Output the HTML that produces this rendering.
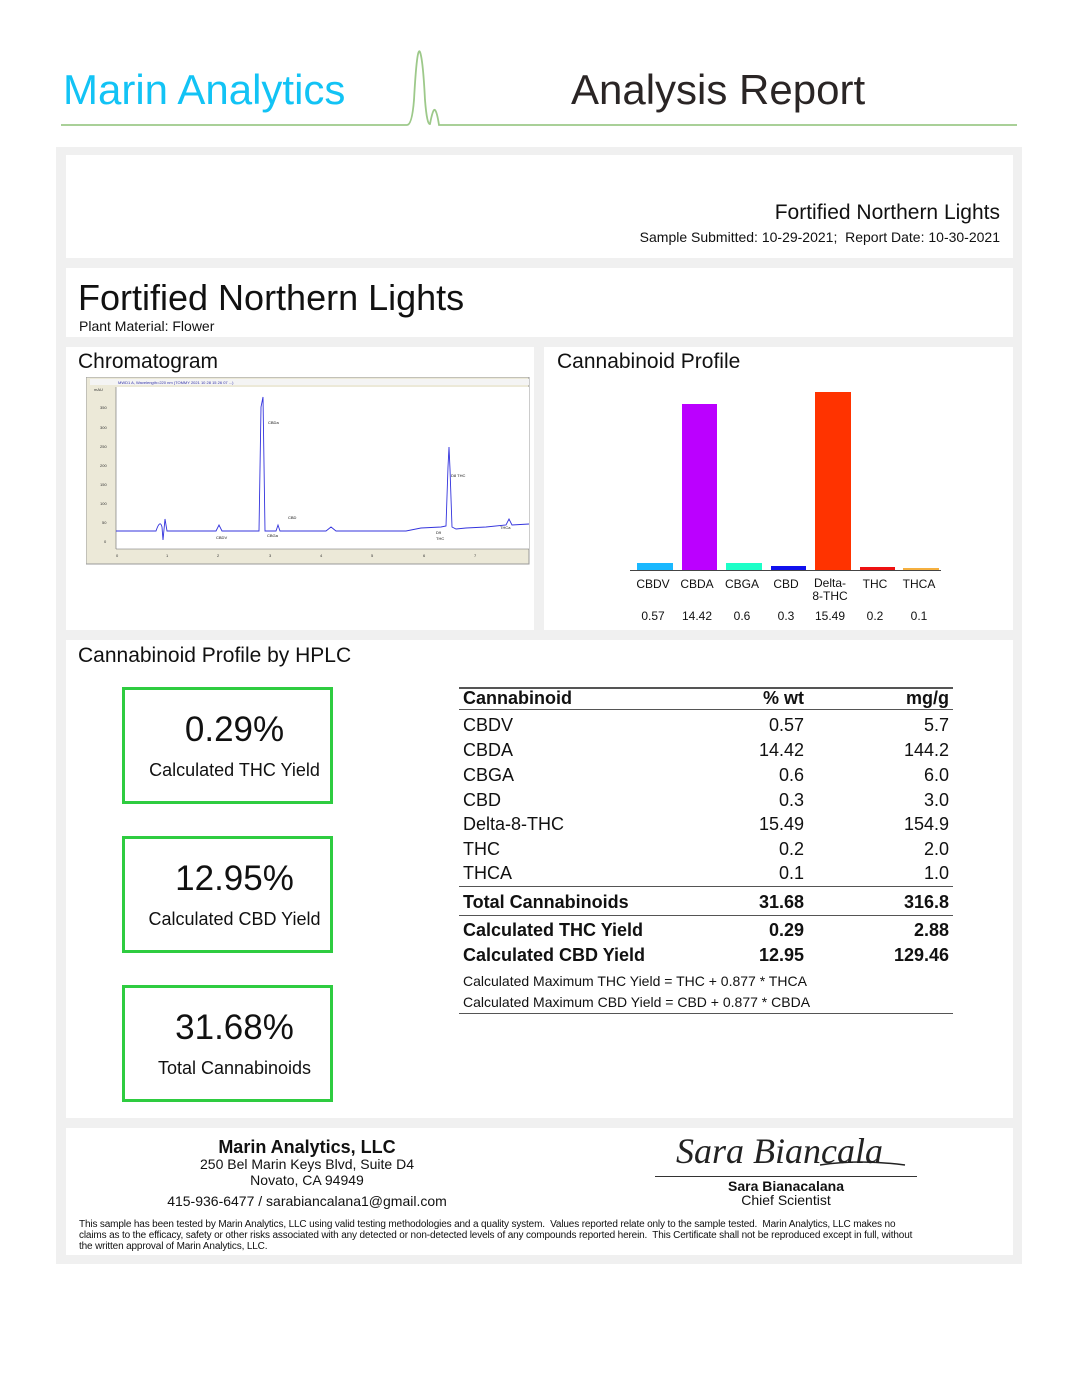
<!DOCTYPE html>
<html><head><meta charset="utf-8"><style>
*{margin:0;padding:0;box-sizing:border-box}
body{width:1080px;height:1375px;background:#fff;position:relative;font-family:"Liberation Sans",Arial,sans-serif;color:#111;overflow:hidden}
.a{position:absolute;white-space:nowrap}
.w{position:absolute;background:#fff}
.gb{position:absolute;border:3px solid #2ecc40;text-align:center;padding-left:14px}
.gb .v{font-size:35px;margin-top:20px}
.gb .l{font-size:18px;margin-top:10px}
.r{position:absolute;left:463px;width:486px;font-size:18px;height:22px}
.r span{position:absolute}
.r .c2{right:145px}.r .c3{right:0}
.b{font-weight:bold}
.ln{position:absolute;left:459px;width:494px;height:1px;background:#555}
.bl{position:absolute;font-size:12px;text-align:center;width:50px}
</style></head><body>
<div class="a" style="left:63px;top:66px;font-size:42px;color:#12c3f5">Marin Analytics</div>
<div class="a" style="left:571px;top:66px;font-size:42px;color:#2a2525">Analysis Report</div>
<svg class="a" style="left:0;top:0" width="1080" height="140"><path d="M61 125 L407 125 Q412 125 414 100 Q417 45 420 52 Q423 60 425 100 Q427 125 430 124 Q433 108 435 110 Q437 112 439 125 L1017 125" fill="none" stroke="#9dc98a" stroke-width="1.8"/></svg>
<div style="position:absolute;left:56px;top:147px;width:966px;height:1117px;background:#f0f0f0"></div>
<div class="w" style="left:66px;top:155px;width:947px;height:103px"></div>
<div class="a" style="right:80px;top:201px;font-size:21px">Fortified Northern Lights</div>
<div class="a" style="right:80px;top:229px;font-size:14px">Sample Submitted: 10-29-2021;&nbsp; Report Date: 10-30-2021</div>
<div class="w" style="left:66px;top:268px;width:947px;height:69px"></div>
<div class="a" style="left:78px;top:277px;font-size:36px">Fortified Northern Lights</div>
<div class="a" style="left:79px;top:318px;font-size:14px">Plant Material: Flower</div>
<div class="w" style="left:66px;top:347px;width:468px;height:283px"></div>
<div class="a" style="left:78px;top:350px;font-size:21px">Chromatogram</div>
<svg class="a" style="left:86px;top:377px" width="444" height="188">
<rect x="0" y="0" width="443" height="187" fill="#ece9d8" stroke="#999"/>
<rect x="4" y="2" width="439" height="6" fill="#f4f4f4"/>
<text x="32" y="7" font-size="4" fill="#33a">MWD1 A, Wavelength=220 nm (TOMMY 2021 10 28 15 26 07 ...)</text>
<rect x="30" y="10" width="413" height="162" fill="#fff"/>
<line x1="30" y1="10" x2="30" y2="172" stroke="#666" stroke-width=".6"/>
<line x1="30" y1="172" x2="443" y2="172" stroke="#666" stroke-width=".6"/>
<g font-size="4" fill="#333"><text x="8" y="14">mAU</text><text x="14" y="32">350</text><text x="14" y="52">300</text><text x="14" y="71">250</text><text x="14" y="90">200</text><text x="14" y="109">150</text><text x="14" y="128">100</text><text x="16" y="147">50</text><text x="18" y="166">0</text></g>
<path d="M30 154 L70 154 Q74 142 76 150 L77 163 L79 142 L81 154 L130 154 L133 148 L136 154 L173 154 L175 30 L177 20 L179 154 L190 154 L192 148 L194 154 L240 154 L245 150 L250 154 L320 154 L335 151 L355 150 L360 149 L362 90 L363 70 L364 92 L366 150 L370 152 L380 151 L400 150 L420 148 L423 142 L426 148 L443 147" fill="none" stroke="#3333dd" stroke-width=".9"/>
<g font-size="4" fill="#111"><text x="182" y="47">CBDa</text><text x="130" y="162">CBDV</text><text x="181" y="160">CBGa</text><text x="202" y="142">CBD</text><text x="365" y="100">D8 THC</text><text x="350" y="157">D9</text><text x="350" y="163">THC</text><text x="414" y="152">THCa</text></g>
<g font-size="4" fill="#333"><text x="30" y="180">0</text><text x="80" y="180">1</text><text x="131" y="180">2</text><text x="183" y="180">3</text><text x="234" y="180">4</text><text x="285" y="180">5</text><text x="337" y="180">6</text><text x="388" y="180">7</text></g>
</svg>
<div class="w" style="left:544px;top:347px;width:469px;height:283px"></div>
<div class="a" style="left:557px;top:350px;font-size:21px">Cannabinoid Profile</div>
<div style="position:absolute;left:630px;top:570px;width:311px;height:1px;background:#444"></div>
<div style="position:absolute;left:637px;top:563px;width:36px;height:7px;background:#1ab8ff"></div>
<div style="position:absolute;left:682px;top:404px;width:35px;height:166px;background:#bb00ff"></div>
<div style="position:absolute;left:726px;top:563px;width:36px;height:7px;background:#1cffc8"></div>
<div style="position:absolute;left:771px;top:566px;width:35px;height:4px;background:#1111ee"></div>
<div style="position:absolute;left:815px;top:392px;width:36px;height:178px;background:#ff3300"></div>
<div style="position:absolute;left:860px;top:567px;width:35px;height:3px;background:#ee1111"></div>
<div style="position:absolute;left:903px;top:568px;width:36px;height:2px;background:#f5b040"></div>
<div class="bl" style="left:628px;top:577px">CBDV</div><div class="bl" style="left:672px;top:577px">CBDA</div><div class="bl" style="left:717px;top:577px">CBGA</div><div class="bl" style="left:761px;top:577px">CBD</div><div class="bl" style="left:805px;top:577px;line-height:13px">Delta-<br>8-THC</div><div class="bl" style="left:850px;top:577px">THC</div><div class="bl" style="left:894px;top:577px">THCA</div>
<div class="bl" style="left:628px;top:609px">0.57</div><div class="bl" style="left:672px;top:609px">14.42</div><div class="bl" style="left:717px;top:609px">0.6</div><div class="bl" style="left:761px;top:609px">0.3</div><div class="bl" style="left:805px;top:609px">15.49</div><div class="bl" style="left:850px;top:609px">0.2</div><div class="bl" style="left:894px;top:609px">0.1</div>
<div class="w" style="left:66px;top:640px;width:947px;height:478px"></div>
<div class="a" style="left:78px;top:644px;font-size:21px">Cannabinoid Profile by HPLC</div>
<div class="gb" style="left:122px;top:687px;width:211px;height:117px"><div class="v">0.29%</div><div class="l">Calculated THC Yield</div></div>
<div class="gb" style="left:122px;top:836px;width:211px;height:117px"><div class="v">12.95%</div><div class="l">Calculated CBD Yield</div></div>
<div class="gb" style="left:122px;top:985px;width:211px;height:117px"><div class="v">31.68%</div><div class="l">Total Cannabinoids</div></div>
<div class="ln" style="top:687px;height:2px"></div>
<div class="r b" style="top:688px"><span>Cannabinoid</span><span class="c2">% wt</span><span class="c3">mg/g</span></div>
<div class="ln" style="top:709px"></div>
<div class="r" style="top:715px"><span>CBDV</span><span class="c2">0.57</span><span class="c3">5.7</span></div>
<div class="r" style="top:740px"><span>CBDA</span><span class="c2">14.42</span><span class="c3">144.2</span></div>
<div class="r" style="top:765px"><span>CBGA</span><span class="c2">0.6</span><span class="c3">6.0</span></div>
<div class="r" style="top:790px"><span>CBD</span><span class="c2">0.3</span><span class="c3">3.0</span></div>
<div class="r" style="top:814px"><span>Delta-8-THC</span><span class="c2">15.49</span><span class="c3">154.9</span></div>
<div class="r" style="top:839px"><span>THC</span><span class="c2">0.2</span><span class="c3">2.0</span></div>
<div class="r" style="top:863px"><span>THCA</span><span class="c2">0.1</span><span class="c3">1.0</span></div>
<div class="ln" style="top:886px"></div>
<div class="r b" style="top:892px"><span>Total Cannabinoids</span><span class="c2">31.68</span><span class="c3">316.8</span></div>
<div class="ln" style="top:915px"></div>
<div class="r b" style="top:920px"><span>Calculated THC Yield</span><span class="c2">0.29</span><span class="c3">2.88</span></div>
<div class="r b" style="top:945px"><span>Calculated CBD Yield</span><span class="c2">12.95</span><span class="c3">129.46</span></div>
<div class="a" style="left:463px;top:973px;font-size:14px">Calculated Maximum THC Yield = THC + 0.877 * THCA</div>
<div class="a" style="left:463px;top:994px;font-size:14px">Calculated Maximum CBD Yield = CBD + 0.877 * CBDA</div>
<div class="ln" style="top:1013px"></div>
<div class="w" style="left:66px;top:1128px;width:947px;height:127px"></div>
<div class="a" style="left:157px;width:300px;text-align:center;top:1137px;font-size:18px;font-weight:bold">Marin Analytics, LLC</div>
<div class="a" style="left:157px;width:300px;text-align:center;top:1156px;font-size:14px">250 Bel Marin Keys Blvd, Suite D4</div>
<div class="a" style="left:157px;width:300px;text-align:center;top:1172px;font-size:14px">Novato, CA 94949</div>
<div class="a" style="left:157px;width:300px;text-align:center;top:1193px;font-size:14px">415-936-6477 / sarabiancalana1@gmail.com</div>
<div class="a" style="left:676px;top:1130px;font-size:36px;font-style:italic;font-family:'Liberation Serif',serif;color:#222">Sara Biancala</div>
<svg class="a" style="left:820px;top:1155px" width="90" height="15"><path d="M0 10 Q40 4 85 10" stroke="#222" fill="none" stroke-width="1.5"/></svg>
<div style="position:absolute;left:655px;top:1176px;width:262px;height:1px;background:#333"></div>
<div class="a" style="left:655px;width:262px;text-align:center;top:1178px;font-size:14px;font-weight:bold">Sara Bianacalana</div>
<div class="a" style="left:655px;width:262px;text-align:center;top:1192px;font-size:14px">Chief Scientist</div>
<div class="a" style="left:79px;top:1219px;font-size:10px;line-height:11px;white-space:normal;width:925px;letter-spacing:-0.15px">This sample has been tested by Marin Analytics, LLC using valid testing methodologies and a quality system.&nbsp; Values reported relate only to the sample tested.&nbsp; Marin Analytics, LLC makes no<br>claims as to the efficacy, safety or other risks associated with any detected or non-detected levels of any compounds reported herein.&nbsp; This Certificate shall not be reproduced except in full, without<br>the written approval of Marin Analytics, LLC.</div>
</body></html>
